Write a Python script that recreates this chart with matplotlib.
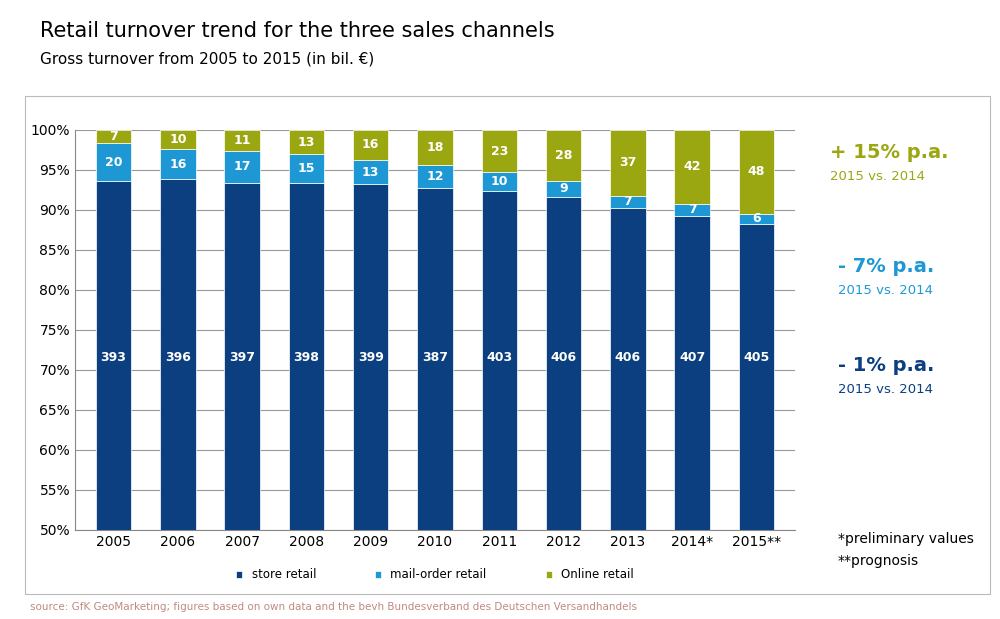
import numpy as np
import matplotlib.pyplot as plt
from matplotlib.patches import Rectangle

years = ['2005', '2006', '2007', '2008', '2009', '2010', '2011', '2012', '2013', '2014*', '2015**']
store = [393, 396, 397, 398, 399, 387, 403, 406, 406, 407, 405]
mail = [20, 16, 17, 15, 13, 12, 10, 9, 7, 7, 6]
online = [7, 10, 11, 13, 16, 18, 23, 28, 37, 42, 48]

c_store = '#0b3f80'
c_mail = '#1e98d4'
c_online = '#9ba711'

store = np.array(store, float)
mail = np.array(mail, float)
online = np.array(online, float)
tot = store + mail + online
ps, pm, po = store / tot * 100, mail / tot * 100, online / tot * 100

fig = plt.figure(figsize=(10, 6.19), dpi=100)
fig.patches.append(Rectangle((0.025, 0.04), 0.965, 0.805, transform=fig.transFigure,
                             fill=False, edgecolor='#bbbbbb', linewidth=0.8))
ax = fig.add_axes([0.075, 0.144, 0.72, 0.646])
x = np.arange(len(years))
w = 0.55
ax.bar(x, ps, w, color=c_store, edgecolor='white', linewidth=0.5, label='store retail', zorder=3)
ax.bar(x, pm, w, bottom=ps, color=c_mail, edgecolor='white', linewidth=0.5, label='mail-order retail', zorder=3)
ax.bar(x, po, w, bottom=ps + pm, color=c_online, edgecolor='white', linewidth=0.5, label='Online retail', zorder=3)

for i in range(len(x)):
    ax.text(x[i], 71.5, f'{int(store[i])}', ha='center', va='center', color='white', fontsize=9, fontweight='bold', zorder=4)
    ax.text(x[i], ps[i] + pm[i] / 2, f'{int(mail[i])}', ha='center', va='center', color='white', fontsize=9, fontweight='bold', zorder=4)
    ax.text(x[i], ps[i] + pm[i] + po[i] / 2, f'{int(online[i])}', ha='center', va='center', color='white', fontsize=9, fontweight='bold', zorder=4)

ax.set_ylim(50, 100)
ax.set_xlim(-0.6, len(x) - 0.4)
ax.set_yticks(range(50, 101, 5))
ax.set_yticklabels([f'{v}%' for v in range(50, 101, 5)], fontsize=10)
ax.set_xticks(x)
ax.set_xticklabels(years, fontsize=10)
ax.grid(axis='y', color='#999999', linewidth=0.8, zorder=0)
for s in ['top', 'right']:
    ax.spines[s].set_visible(False)
ax.spines['left'].set_color('#888888')
ax.spines['bottom'].set_color('#888888')
ax.tick_params(length=0)

ax.legend(loc='upper center', bbox_to_anchor=(0.5, -0.07), ncol=3, frameon=False,
          fontsize=8.5, handlelength=0.5, handleheight=0.5, columnspacing=5)

fig.text(0.04, 0.95, 'Retail turnover trend for the three sales channels', fontsize=15, va='center')
fig.text(0.04, 0.905, 'Gross turnover from 2005 to 2015 (in bil. \u20ac)', fontsize=11, va='center')
fig.text(0.03, 0.02, 'source: GfK GeoMarketing; figures based on own data and the bevh Bundesverband des Deutschen Versandhandels',
         fontsize=7.5, color='#c08a80', va='center')

fig.text(0.83, 0.745, '+ 15% p.a.', fontsize=14, fontweight='bold', color=c_online)
fig.text(0.83, 0.71, '2015 vs. 2014', fontsize=9.5, color=c_online)
fig.text(0.838, 0.56, '- 7% p.a.', fontsize=14, fontweight='bold', color=c_mail)
fig.text(0.838, 0.525, '2015 vs. 2014', fontsize=9.5, color=c_mail)
fig.text(0.838, 0.40, '- 1% p.a.', fontsize=14, fontweight='bold', color=c_store)
fig.text(0.838, 0.365, '2015 vs. 2014', fontsize=9.5, color=c_store)
fig.text(0.838, 0.123, '*preliminary values', fontsize=10)
fig.text(0.838, 0.088, '**prognosis', fontsize=10)

fig.savefig('out.png', dpi=100)
